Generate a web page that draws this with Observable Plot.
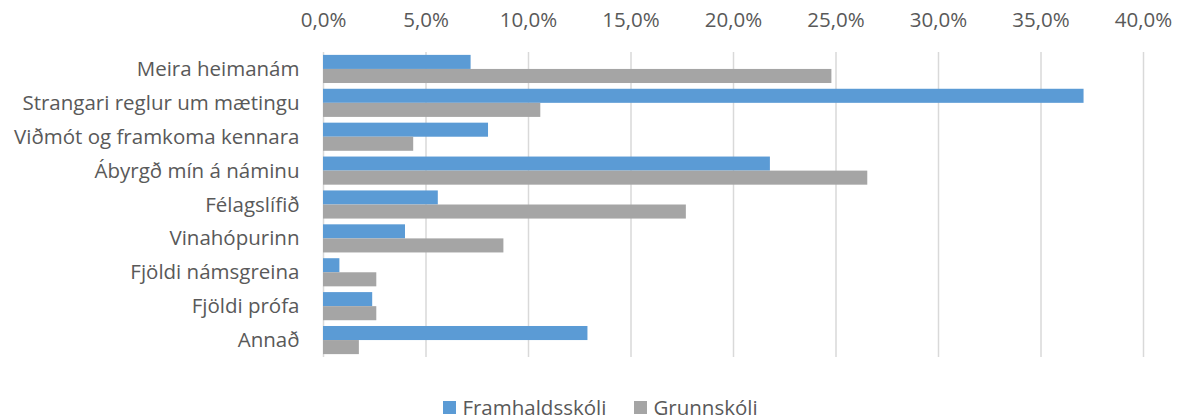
<!DOCTYPE html>
<html>
<head>
<meta charset="utf-8">
<script src="https://cdn.jsdelivr.net/npm/d3@7"></script>
<script src="https://cdn.jsdelivr.net/npm/@observablehq/plot@0.6"></script>
<style>
  html, body { margin: 0; padding: 0; background: #fff; }
  #chart svg { display: block; }
  #legend { height: 24px; padding-top: 10px; display: flex; justify-content: center; align-items: center; padding-left: 20px;
            font-family: "Open Sans", sans-serif; font-size: 20.5px; color: #595959; }
  .item { display: flex; align-items: center; margin: 0 14px; }
  .sw { width: 13px; height: 13px; margin-right: 6px; }
</style>
</head>
<body>
<div id="chart"></div>
<div id="legend"></div>
<script>
const categories = [
  "Meira heimanám",
  "Strangari reglur um mætingu",
  "Viðmót og framkoma kennara",
  "Ábyrgð mín á náminu",
  "Félagslífið",
  "Vinahópurinn",
  "Fjöldi námsgreina",
  "Fjöldi prófa",
  "Annað"
];
const seriesNames = ["Framhaldsskóli", "Grunnskóli"];
const framhaldsskoli = [7.2, 37.1, 8.05, 21.8, 5.6, 4.0, 0.8, 2.4, 12.9];
const grunnskoli = [24.8, 10.6, 4.4, 26.55, 17.7, 8.8, 2.6, 2.6, 1.75];
const xTicks = [0, 5, 10, 15, 20, 25, 30, 35, 40];
const colors = ["#5b9bd5", "#a5a5a5"];

const dataA = categories.map((c, i) => ({category: c, value: framhaldsskoli[i], series: seriesNames[0]}));
const dataB = categories.map((c, i) => ({category: c, value: grunnskoli[i], series: seriesNames[1]}));

const fmt = d => d.toFixed(1).replace(".", ",") + "%";

const base = {
  width: 1181,
  height: 385,
  marginTop: 52,
  marginBottom: 28,
  marginLeft: 323,
  marginRight: 38,
  style: {fontFamily: "'Open Sans', sans-serif", fontSize: "20.5px", color: "#595959", background: "#fff"},
  x: {domain: [0, 40], ticks: xTicks, tickFormat: fmt},
  y: {domain: categories, paddingInner: 0.17, paddingOuter: 0.085, round: false, label: null},
  color: {domain: seriesNames, range: colors}
};

const probe = Plot.plot({...base, marks: [Plot.barX(dataA, {x: "value", y: "category"})]});
const bw = probe.scale("y").bandwidth;
const half = bw / 2;

const chart = Plot.plot({
  ...base,
  marks: [
    Plot.gridX(xTicks, {stroke: "#d9d9d9", strokeOpacity: 1, strokeWidth: 1.5}),
    Plot.barX(dataA, {x: "value", y: "category", fill: "series", insetBottom: half}),
    Plot.barX(dataB, {x: "value", y: "category", fill: "series", insetTop: half}),
    Plot.axisX(xTicks, {anchor: "top", tickSize: 0, tickPadding: 26, tickFormat: fmt, label: null, fill: "#595959"}),
    Plot.axisY({anchor: "left", tickSize: 0, tickPadding: 24, label: null, fill: "#595959"})
  ]
});
document.getElementById("chart").appendChild(chart);

const legend = document.getElementById("legend");
seriesNames.forEach((name, i) => {
  const item = document.createElement("div");
  item.className = "item";
  const sw = document.createElement("div");
  sw.className = "sw";
  sw.style.background = colors[i];
  const label = document.createElement("span");
  label.textContent = name;
  item.appendChild(sw);
  item.appendChild(label);
  legend.appendChild(item);
});
</script>
</body>
</html>
